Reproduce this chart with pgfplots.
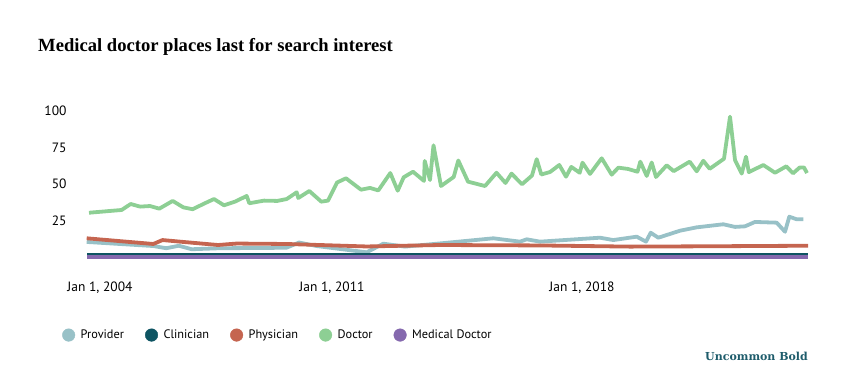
\documentclass[border=0pt]{standalone}
\usepackage{pgfplots}
\pgfplotsset{compat=1.18}
\usepackage{fontspec}
\setmainfont{PT Sans}
\newfontfamily\titlefont{Liberation Serif}
\newfontfamily\brandfont{DejaVu Serif}
\definecolor{provider}{HTML}{98C1C7}
\definecolor{clinician}{HTML}{0E5462}
\definecolor{physician}{HTML}{C56550}
\definecolor{doctor}{HTML}{8DCF94}
\definecolor{meddoc}{HTML}{8569AE}
\definecolor{brand}{HTML}{1E5C6B}
\begin{document}
\begin{tikzpicture}
\path[use as bounding box] (0pt,0pt) rectangle (843pt,390pt);
\node[anchor=base west, inner sep=0pt, font=\titlefont\bfseries\fontsize{18.6}{20}\selectfont] at (38pt,338.5pt) {Medical doctor places last for search interest};
\node[anchor=base east, inner sep=0pt, text=brand, font=\brandfont\bfseries\fontsize{11}{13}\selectfont] at (808pt,29.3pt) {Uncommon Bold};
\begin{axis}[
  at={(75pt,115.5pt)}, anchor=south west,
  scale only axis, width=740pt, height=178.1pt,
  xmin=75, xmax=815, ymin=-12, ymax=110,
  axis line style={draw=none}, major tick length=0pt,
  ytick={25,50,75,100},
  xtick={100,332,582},
  xticklabels={{Jan 1, 2004},{Jan 1, 2011},{Jan 1, 2018}},
  tick label style={font=\fontsize{13.5}{16}\selectfont},
  yticklabel style={xshift=-5pt},
  xticklabel style={yshift=-4pt},
  /pgf/number format/assume math mode=true,
  legend columns=5,
  legend style={draw=none, fill=none, inner sep=0pt, at={(-0.0176,-0.34)}, anchor=west,
    font=\fontsize{12.3}{15}\selectfont,
    /tikz/every odd column/.append style={column sep=3.5pt},
    /tikz/every even column/.append style={column sep=19pt}},
  every axis plot/.append style={line join=round},
]
\addlegendimage{legend image code/.code={\fill[provider] (0pt,0pt) circle (6.3pt);}}
\addlegendentry{Provider}
\addlegendimage{legend image code/.code={\fill[clinician] (0pt,0pt) circle (6.3pt);}}
\addlegendentry{Clinician}
\addlegendimage{legend image code/.code={\fill[physician] (0pt,0pt) circle (6.3pt);}}
\addlegendentry{Physician}
\addlegendimage{legend image code/.code={\fill[doctor] (0pt,0pt) circle (6.3pt);}}
\addlegendentry{Doctor}
\addlegendimage{legend image code/.code={\fill[meddoc] (0pt,0pt) circle (6.3pt);}}
\addlegendentry{Medical Doctor}
% Provider
\addplot[forget plot, provider, line width=3.8pt] coordinates {
(86.7,10.3) (153.3,7.5) (166.3,6.0) (178.8,7.7) (191.7,5.3) (220,6.0) (270,6.2)
(286.7,6.4) (299,9.9) (316.7,7.5) (366.7,3.2) (383.3,9.1) (405,7.1) (445,9.6)
(493.3,12.8) (520,10.5) (526.7,12.1) (540,10.5) (600,13.2) (613.3,11.6)
(636.7,13.9) (646,10.5) (650.7,16.6) (658.3,13.2) (680,18.0) (696.7,20.3)
(723.3,22.4) (735,20.6) (745,21.0) (755,24.0) (776.7,23.5) (785,17.3)
(789.3,27.6) (796.7,25.8) (803.3,25.8)
};
% Physician
\addplot[forget plot, physician, line width=3.8pt] coordinates {
(86.7,12.8) (153.3,8.9) (162.5,11.6) (180,10.5) (218,8.2) (236.7,9.2) (286.7,8.9)
(366.7,7.2) (440,8.2) (540,7.9) (630,7.1) (700,7.3) (808,7.7)
};
% Medical Doctor
\addplot[forget plot, meddoc, line width=3.8pt] coordinates {(87,0) (808,0)};
% Clinician
\addplot[forget plot, clinician, line width=2.6pt] coordinates {(87,2) (808,2)};
% Doctor
\addplot[forget plot, doctor, line width=3.8pt] coordinates {
(89,30.3) (121.7,32.2) (130.7,36.3) (140,34.5) (150,34.9) (159.3,33.1) (172.7,38.4)
(183.3,34.0) (192.7,32.7) (203.3,36.3) (214,39.7) (224,35.4) (235,37.9) (246.7,41.8)
(249.3,36.8) (264,38.6) (277.3,38.4) (286.7,39.7) (296.7,44.3) (298.3,40.4)
(309.3,45.2) (321.3,37.9) (328,38.6) (337,51.0) (346,53.9) (361,46.1) (370,47.3)
(378.3,45.6) (390.3,57.5) (397.7,45.4) (403.7,54.6) (413,58.4) (424,52.1)
(424.7,65.8) (430,52.7) (433.5,76.5) (441,48.6) (453.7,54.8) (458.3,66.1)
(468,51.6) (485,48.6) (496.5,57.7) (505.5,50.7) (511.5,57.1) (522,49.8)
(532,55.8) (536.7,67.0) (541.3,56.5) (550,58.2) (559.3,63.0) (566,55.0)
(571.3,61.7) (579.7,57.7) (582.5,64.6) (590,56.9) (601.7,67.6) (611.7,56.4)
(618.3,61.2) (628,60.3) (637.5,58.4) (640.3,65.3) (646.7,55.5) (651.7,64.7) (656,54.8)
(666.7,62.8) (673.7,58.8) (689.7,65.3) (696.7,58.7) (703.3,65.9) (709.7,60.4)
(724,67.3) (730,96.1) (735,66.4) (741.7,57.1) (746,68.7) (748.8,58.1)
(763.3,63.0) (775,57.7) (786.3,62.1) (793,57.3) (799.7,61.3) (804,61.3) (807,57.5)
};
\end{axis}
\end{tikzpicture}
\end{document}
